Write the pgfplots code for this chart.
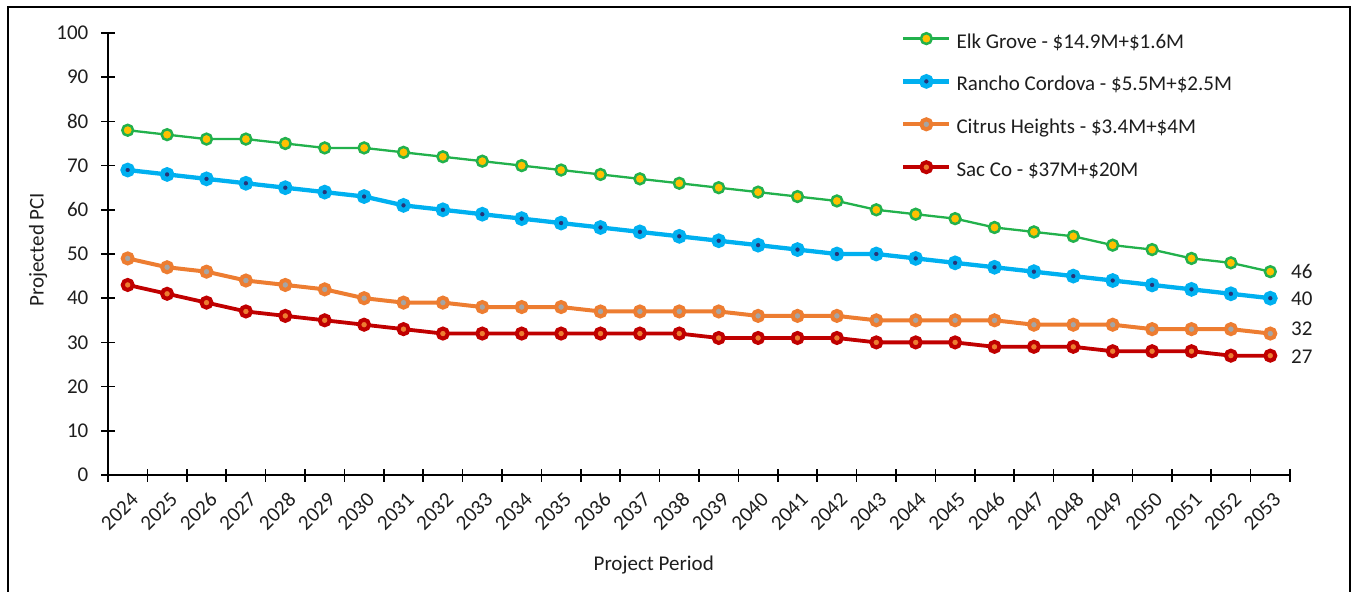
\documentclass[border=0pt]{standalone}
\usepackage{fontspec}
\setmainfont{Carlito}
\usepackage{pgfplots}
\pgfplotsset{compat=1.18}

\definecolor{egreen}{RGB}{34,177,76}
\definecolor{egold}{RGB}{255,192,0}
\definecolor{rblue}{RGB}{0,176,240}
\definecolor{rnavy}{RGB}{38,52,120}
\definecolor{corange}{RGB}{237,125,49}
\definecolor{cgray}{RGB}{165,165,165}
\definecolor{sred}{RGB}{192,0,0}
\definecolor{sfill}{RGB}{237,125,49}
\definecolor{txt}{RGB}{30,30,30}

\newcommand\lbl{\fontsize{21}{25}\selectfont}

\begin{document}
\begin{tikzpicture}[x=1pt,y=1pt]
\useasboundingbox (0,0) rectangle (1353,592);
% chart area frame
\draw[line width=2pt, black] (8,-10) -- (8,585) -- (1350,585) -- (1350,-10);

\begin{axis}[
  at={(108pt,117pt)}, anchor=south west,
  scale only axis, width=1182pt, height=442pt,
  xmin=-0.5, xmax=29.5, ymin=0, ymax=100,
  axis lines*=left,
  axis line style={line width=1.6pt, black},
  tick align=center,
  ytick={0,10,...,100},
  major tick length=13pt,
  major y tick style={line width=1.6pt, black},
  xtick={0,...,29},
  xticklabels={2024,2025,2026,2027,2028,2029,2030,2031,2032,2033,2034,2035,2036,2037,2038,2039,2040,2041,2042,2043,2044,2045,2046,2047,2048,2049,2050,2051,2052,2053},
  major x tick style={draw=none},
  minor xtick={-0.5,0.5,...,29.5},
  minor tick length=13pt,
  minor x tick style={line width=1.6pt, black},
  tick label style={font=\lbl, text=txt},
  /pgf/number format/assume math mode=true,
  xticklabel style={anchor=east, inner sep=0pt, xshift=7pt, yshift=-14.6pt, rotate=45},
  yticklabel style={anchor=east, inner sep=0pt, xshift=-13pt},
  xlabel={Project Period},
  ylabel={Projected PCI},
  label style={font=\lbl, text=txt},
  x label style={at={(axis description cs:0.4617,-0.2036)}, anchor=center},
  y label style={at={(axis description cs:-0.0592,0.51)}, anchor=center, rotate=0},
  clip=false,
  legend style={at={(axis description cs:0.6709,1.0)}, anchor=north west,
    draw=none, fill=none, inner sep=0pt, font=\lbl, text=txt,
    row sep=23.4pt,
    nodes={inner sep=0pt, text height=14pt, text depth=5pt},
    /tikz/every even column/.append style={column sep=0pt}},
  legend cell align=left,
  legend image code/.code={\draw[mark repeat=2,mark phase=2,#1] plot coordinates {(0pt,5pt) (23pt,5pt) (46pt,5pt)}; \path (51pt,5pt);},
]

\addplot[color=egreen, line width=2.3pt, mark=*, mark size=5.4pt,
  mark options={fill=egold, draw=egreen, line width=2.5pt}] coordinates {
  (0,78) (1,77) (2,76) (3,76) (4,75) (5,74) (6,74) (7,73) (8,72) (9,71)
  (10,70) (11,69) (12,68) (13,67) (14,66) (15,65) (16,64) (17,63) (18,62) (19,60)
  (20,59) (21,58) (22,56) (23,55) (24,54) (25,52) (26,51) (27,49) (28,48) (29,46)};
\addlegendentry{Elk Grove - \$14.9M+\$1.6M}

\addplot[color=rblue, line width=4.3pt, mark=*, mark size=4.9pt,
  mark options={fill=rnavy, draw=rblue, line width=4.8pt}] coordinates {
  (0,69) (1,68) (2,67) (3,66) (4,65) (5,64) (6,63) (7,61) (8,60) (9,59)
  (10,58) (11,57) (12,56) (13,55) (14,54) (15,53) (16,52) (17,51) (18,50) (19,50)
  (20,49) (21,48) (22,47) (23,46) (24,45) (25,44) (26,43) (27,42) (28,41) (29,40)};
\addlegendentry{Rancho Cordova - \$5.5M+\$2.5M}

\addplot[color=corange, line width=4pt, mark=*, mark size=5pt,
  mark options={fill=cgray, draw=corange, line width=4pt}] coordinates {
  (0,49) (1,47) (2,46) (3,44) (4,43) (5,42) (6,40) (7,39) (8,39) (9,38)
  (10,38) (11,38) (12,37) (13,37) (14,37) (15,37) (16,36) (17,36) (18,36) (19,35)
  (20,35) (21,35) (22,35) (23,34) (24,34) (25,34) (26,33) (27,33) (28,33) (29,32)};
\addlegendentry{Citrus Heights - \$3.4M+\$4M}

\addplot[color=sred, line width=3.8pt, mark=*, mark size=5pt,
  mark options={fill=sfill, draw=sred, line width=4pt}] coordinates {
  (0,43) (1,41) (2,39) (3,37) (4,36) (5,35) (6,34) (7,33) (8,32) (9,32)
  (10,32) (11,32) (12,32) (13,32) (14,32) (15,31) (16,31) (17,31) (18,31) (19,30)
  (20,30) (21,30) (22,29) (23,29) (24,29) (25,28) (26,28) (27,28) (28,27) (29,27)};
\addlegendentry{Sac Co - \$37M+\$20M}

% end-of-period values
\node[anchor=west, inner sep=0pt, font=\lbl, text=txt, xshift=1pt] at (axis cs:29.5,46) {46};
\node[anchor=west, inner sep=0pt, font=\lbl, text=txt, xshift=1pt, yshift=-1pt] at (axis cs:29.5,40) {40};
\node[anchor=west, inner sep=0pt, font=\lbl, text=txt, xshift=1pt, yshift=4.5pt] at (axis cs:29.5,32) {32};
\node[anchor=west, inner sep=0pt, font=\lbl, text=txt, xshift=1pt, yshift=-1.3pt] at (axis cs:29.5,27) {27};
\end{axis}
\end{tikzpicture}
\end{document}
